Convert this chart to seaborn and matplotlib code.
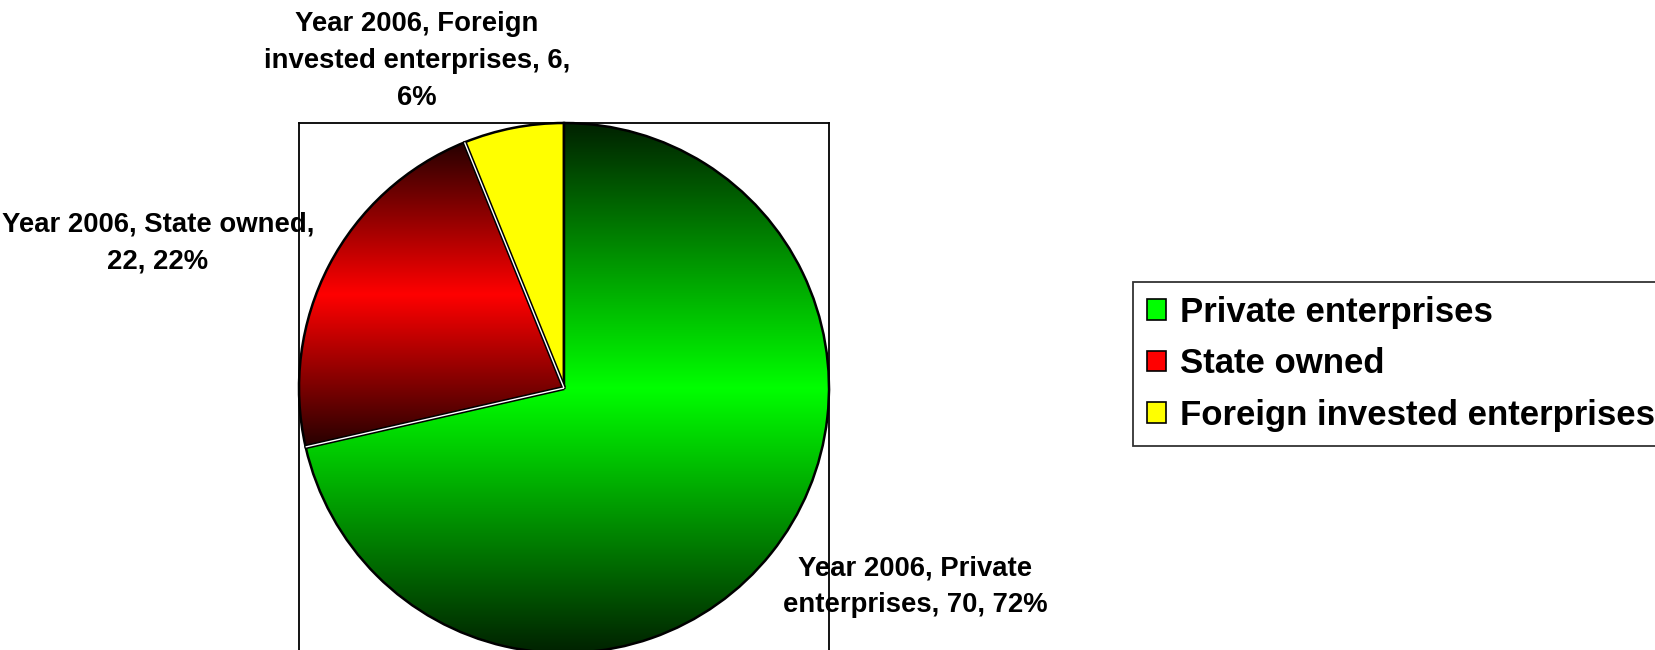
import matplotlib
matplotlib.use("Agg")
import numpy as np
import matplotlib.pyplot as plt
import seaborn as sns
from matplotlib.patches import Patch

sns.set_style("white")
plt.rcParams['font.family'] = ['Liberation Sans', 'DejaVu Sans']
plt.rcParams['text.color'] = 'black'

# data
categories = ['Private enterprises', 'State owned', 'Foreign invested enterprises']
values = [70, 22, 6]
percents = ['72%', '22%', '6%']
year = 'Year 2006'
colors = ['#00ff00', '#ff0000', '#ffff00']
dark = ['#002200', '#260000', None]


def gradient_fill(ax, wedge, cmap):
    # vertical dark-bright-dark gradient clipped to the wedge
    bb = wedge.get_path().get_extents(wedge.get_patch_transform())
    grad = np.linspace(0, 1, 256).reshape(-1, 1)
    im = ax.imshow(grad, cmap=cmap, aspect='auto', origin='upper',
                   extent=[bb.x0, bb.x1, bb.y0, bb.y1], zorder=wedge.get_zorder())
    im.set_clip_path(wedge)
    wedge.set_facecolor('none')
    wedge.set_zorder(wedge.get_zorder() + 1)


fig = plt.figure(figsize=(16.56, 6.5), dpi=100)
W, H = 1656, 650
ax = fig.add_axes([299 / W, (650 - 653) / H, 530 / W, 530 / H])

wedges, _ = ax.pie(values, colors=colors, startangle=90, counterclock=False,
                   radius=1.0, wedgeprops=dict(edgecolor='black', linewidth=1.8))
ax.set_xlim(-1, 1)
ax.set_ylim(-1, 1)

for w, c, d in zip(wedges, colors, dark):
    if d is not None:
        cmap = sns.blend_palette([d, c, d], n_colors=256, as_cmap=True)
        gradient_fill(ax, w, cmap)

# the state-owned slice has a thin white gap along its straight edges
red = wedges[1]
for ang in (red.theta1, red.theta2):
    a = np.deg2rad(ang)
    ax.plot([0, red.r * np.cos(a)], [0, red.r * np.sin(a)], color='black',
            lw=3.2, solid_capstyle='butt', zorder=5)
    ax.plot([0, red.r * np.cos(a)], [0, red.r * np.sin(a)], color='white',
            lw=1.0, solid_capstyle='butt', zorder=6)

# plot area box
ax.set_frame_on(True)
ax.set_xticks([])
ax.set_yticks([])
for s in ax.spines.values():
    s.set_visible(True)
    s.set_color('black')
    s.set_linewidth(1.3)
    s.set_zorder(10)

lab_kw = dict(fontsize=19.8, fontweight='bold', ha='center', va='center',
              linespacing=1.55, color='black')
fig.text(417 / W, 1 - 61 / H,
         f"{year}, Foreign\ninvested enterprises, {values[2]},\n{percents[2]}", **lab_kw)
fig.text(158 / W, 1 - 243 / H,
         f"{year}, State owned,\n{values[1]}, {percents[1]}", **lab_kw)
fig.text(915 / W, 1 - 587 / H,
         f"{year}, Private\nenterprises, {values[0]}, {percents[0]}", **lab_kw)

handles = [Patch(facecolor=c, edgecolor='black', linewidth=1.2) for c in colors]
leg = fig.legend(handles, categories, loc='upper left',
                 bbox_to_anchor=(1133 / W, 1 - 282 / H), frameon=True, fancybox=False,
                 prop=dict(family='Liberation Sans', weight='bold', size=25),
                 handlelength=0.55, handleheight=0.55, handletextpad=0.4,
                 labelspacing=0.53, borderpad=0.4, borderaxespad=0)
leg.get_frame().set_edgecolor('black')
leg.get_frame().set_linewidth(1.3)
for t in leg.get_texts():
    t.set_color('black')

fig.savefig('out.png', dpi=100, facecolor='white')
